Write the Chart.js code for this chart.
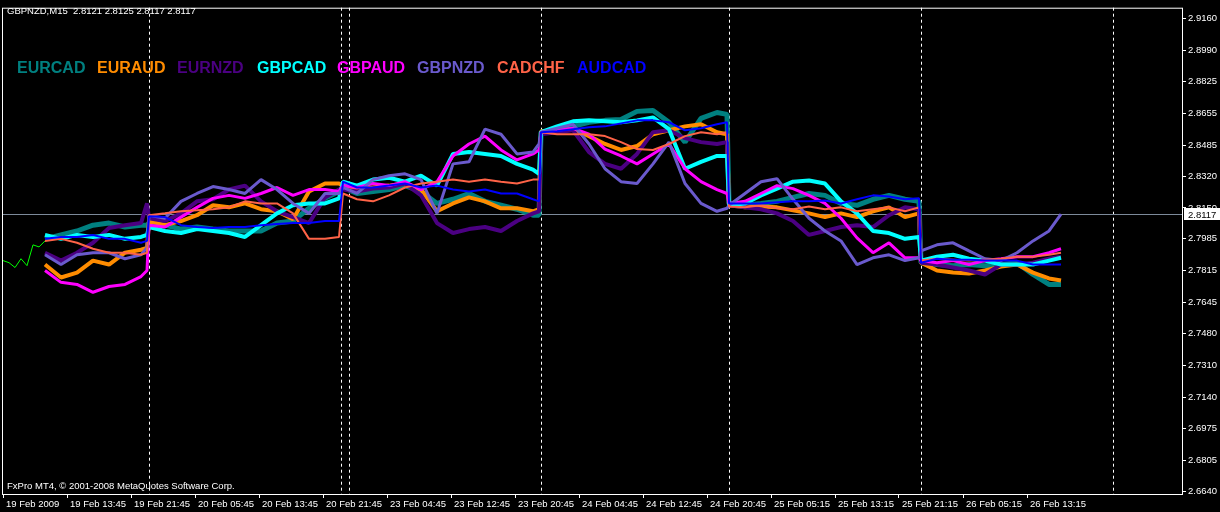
<!DOCTYPE html>
<html>
<head>
  <meta charset="UTF-8">
  <title>GBPNZD,M15</title>
  <style>
    html, body { margin: 0; padding: 0; background: #000; overflow: hidden; }
    #wrap { width: 1220px; height: 512px; }
  </style>
</head>
<body>
  <div id="wrap"><canvas id="chart" width="1220" height="512"></canvas></div>
  <script src="https://cdn.jsdelivr.net/npm/chart.js"></script>
  <script>
    // bar numbers on the M15 timeline (bar 0 = 19 Feb 2009 05:45)
    const bars = [21,29,37,45,53,61,69,72, 73,81,89,97,105,113,121,129,137,145,153,161,168,
      170,177,185,193,201,209,217,225,233,241,249,257,265,268, 269,277,285,293,301,309,317,325,333,341,349,357,362,
      363,371,379,387,395,403,411,419,427,435,443,451,458, 459,467,475,483,491,499,507,515,523,529];

    const eurcad = [2.7985,2.8006,2.8027,2.8058,2.8069,2.8048,2.8058,2.8058,
      2.8069,2.8058,2.8037,2.8048,2.8037,2.8027,2.8027,2.8027,2.8069,2.8080,2.8148,2.8201,2.8238,
      2.8259,2.8227,2.8238,2.8248,2.8269,2.8238,2.8174,2.8196,2.8227,2.8185,2.8164,2.8143,2.8111,2.8111,
      2.8554,2.8564,2.8585,2.8607,2.8617,2.8622,2.8665,2.8670,2.8607,2.8501,2.8628,2.8659,2.8649,
      2.8174,2.8164,2.8174,2.8185,2.8206,2.8227,2.8217,2.8174,2.8164,2.8196,2.8217,2.8196,2.8185,
      2.7858,2.7848,2.7842,2.7848,2.7842,2.7848,2.7858,2.7795,2.7742,2.7742];
    const euraud = [2.7848,2.7779,2.7805,2.7869,2.7848,2.7911,2.7927,2.7937,
      2.8080,2.8058,2.8080,2.8111,2.8164,2.8153,2.8174,2.8143,2.8132,2.8090,2.8238,2.8280,2.8280,
      2.8269,2.8248,2.8259,2.8269,2.8280,2.8248,2.8132,2.8174,2.8206,2.8185,2.8148,2.8148,2.8132,2.8143,
      2.8559,2.8564,2.8570,2.8533,2.8491,2.8459,2.8480,2.8543,2.8564,2.8585,2.8596,2.8554,2.8543,
      2.8164,2.8153,2.8158,2.8153,2.8137,2.8121,2.8101,2.8121,2.8101,2.8132,2.8153,2.8101,2.8121,
      2.7858,2.7816,2.7805,2.7800,2.7816,2.7837,2.7848,2.7805,2.7774,2.7763];
    const eurnzd = [2.7911,2.7869,2.7911,2.7964,2.8043,2.8058,2.8069,2.8174,
      2.8095,2.8080,2.8121,2.8185,2.8196,2.8248,2.8269,2.8185,2.8132,2.8101,2.8069,2.8206,2.8248,
      2.8248,2.8238,2.8253,2.8259,2.8280,2.8217,2.8069,2.8016,2.8037,2.8048,2.8027,2.8080,2.8121,2.8132,
      2.8543,2.8554,2.8564,2.8448,2.8385,2.8359,2.8438,2.8554,2.8564,2.8522,2.8501,2.8491,2.8501,
      2.8164,2.8153,2.8143,2.8121,2.8080,2.8006,2.8027,2.8048,2.8058,2.8048,2.8111,2.8153,2.8143,
      2.7858,2.7848,2.7832,2.7816,2.7795,2.7848,2.7848,2.7858,2.7879,2.7890];
    const gbpcad = [2.8006,2.7985,2.8006,2.7995,2.8006,2.7985,2.7995,2.8006,
      2.8048,2.8027,2.8016,2.8037,2.8027,2.8016,2.7995,2.8058,2.8121,2.8164,2.8174,2.8174,2.8201,
      2.8290,2.8269,2.8301,2.8311,2.8290,2.8322,2.8269,2.8438,2.8448,2.8438,2.8427,2.8385,2.8354,2.8332,
      2.8554,2.8585,2.8612,2.8617,2.8612,2.8607,2.8617,2.8633,2.8570,2.8359,2.8396,2.8427,2.8427,
      2.8164,2.8174,2.8217,2.8253,2.8290,2.8296,2.8280,2.8185,2.8121,2.8027,2.8016,2.7985,2.7995,
      2.7869,2.7890,2.7900,2.7879,2.7869,2.7848,2.7848,2.7848,2.7869,2.7884];
    const gbpaud = [2.7816,2.7753,2.7742,2.7700,2.7731,2.7742,2.7784,2.7816,
      2.8058,2.8048,2.8101,2.8153,2.8201,2.8217,2.8201,2.8227,2.8259,2.8217,2.8248,2.8248,2.8238,
      2.8269,2.8259,2.8280,2.8269,2.8290,2.8248,2.8290,2.8427,2.8491,2.8533,2.8459,2.8406,2.8438,2.8459,
      2.8554,2.8564,2.8575,2.8543,2.8464,2.8427,2.8385,2.8438,2.8491,2.8359,2.8290,2.8248,2.8227,
      2.8174,2.8185,2.8227,2.8269,2.8253,2.8217,2.8174,2.8095,2.7990,2.7911,2.7964,2.7884,2.7884,
      2.7869,2.7858,2.7869,2.7848,2.7869,2.7879,2.7890,2.7890,2.7911,2.7932];
    const gbpnzd = [2.7900,2.7848,2.7900,2.7911,2.7911,2.7879,2.7900,2.7937,
      2.8111,2.8095,2.8185,2.8227,2.8264,2.8248,2.8227,2.8301,2.8248,2.8174,2.8121,2.8227,2.8227,
      2.8259,2.8227,2.8301,2.8322,2.8332,2.8301,2.8121,2.8385,2.8396,2.8570,2.8543,2.8438,2.8448,2.8491,
      2.8554,2.8575,2.8596,2.8491,2.8359,2.8290,2.8280,2.8385,2.8501,2.8280,2.8174,2.8132,2.8148,
      2.8164,2.8227,2.8290,2.8306,2.8196,2.8095,2.8027,2.7974,2.7848,2.7884,2.7900,2.7869,2.7884,
      2.7921,2.7953,2.7964,2.7921,2.7879,2.7869,2.7911,2.7974,2.8027,2.8117];
    const cadchf = [2.7974,2.7985,2.7964,2.7932,2.7911,2.7911,2.7900,2.7911,
      2.8111,2.8121,2.8132,2.8137,2.8143,2.8153,2.8185,2.8174,2.8174,2.8121,2.7985,2.7985,2.7995,
      2.8227,2.8196,2.8185,2.8217,2.8259,2.8280,2.8290,2.8301,2.8290,2.8301,2.8290,2.8280,2.8301,2.8301,
      2.8554,2.8543,2.8543,2.8543,2.8533,2.8501,2.8464,2.8459,2.8491,2.8533,2.8554,2.8543,2.8554,
      2.8158,2.8153,2.8164,2.8148,2.8143,2.8158,2.8143,2.8153,2.8132,2.8143,2.8153,2.8132,2.8153,
      2.7869,2.7879,2.7874,2.7869,2.7874,2.7879,2.7890,2.7890,2.7900,2.7911];
    const audcad = [2.7985,2.7995,2.7995,2.8006,2.7985,2.7985,2.7964,2.7974,
      2.8106,2.8101,2.8058,2.8048,2.8043,2.8048,2.8048,2.8058,2.8064,2.8069,2.8069,2.8080,2.8080,
      2.8290,2.8259,2.8259,2.8269,2.8280,2.8259,2.8269,2.8248,2.8238,2.8248,2.8227,2.8227,2.8196,2.8185,
      2.8554,2.8559,2.8570,2.8580,2.8585,2.8601,2.8617,2.8617,2.8607,2.8564,2.8575,2.8596,2.8607,
      2.8174,2.8174,2.8174,2.8180,2.8185,2.8185,2.8190,2.8174,2.8196,2.8217,2.8211,2.8196,2.8201,
      2.7858,2.7879,2.7874,2.7874,2.7869,2.7869,2.7869,2.7848,2.7848,2.7848];

    // main chart line (only visible before the indicator starts)
    const priceBars = [0,3,6,9,12,15,18,21];
    const priceLine = [2.7869,2.7858,2.7832,2.7879,2.7842,2.7953,2.7942,2.7974];

    const xTickBars = [0,32,64,96,128,160,192,224,256,288,320,352,384,416,448,480,512];
    const xTickLabels = ['19 Feb 2009','19 Feb 13:45','19 Feb 21:45','20 Feb 05:45','20 Feb 13:45',
      '20 Feb 21:45','23 Feb 04:45','23 Feb 12:45','23 Feb 20:45','24 Feb 04:45','24 Feb 12:45',
      '24 Feb 20:45','25 Feb 05:15','25 Feb 13:15','25 Feb 21:15','26 Feb 05:15','26 Feb 13:15'];
    const yTicks = [2.9160,2.8990,2.8825,2.8655,2.8485,2.8320,2.8150,2.7985,2.7815,
      2.7645,2.7480,2.7310,2.7140,2.6975,2.6805,2.6640];
    const daySeparators = [73,169,173,269,363,459,555];
    const lastPrice = 2.8117;
    const headerText = 'GBPNZD,M15  2.8121 2.8125 2.8117 2.8117';
    const footerText = 'FxPro MT4, \u00A9 2001-2008 MetaQuotes Software Corp.';

    const FONT = '"Liberation Sans", Arial, sans-serif';
    const pts = (xs, ys) => ys.map((v, i) => ({ x: xs[i], y: v }));

    function pair(label, values, color, width, order) {
      return {
        label, data: pts(bars, values), borderColor: color, backgroundColor: color,
        borderWidth: width, order, pointRadius: 0, tension: 0, fill: false,
        borderJoinStyle: 'bevel', borderCapStyle: 'butt'
      };
    }

    // MT4-like frame, day separators, price line, legend and captions
    const terminal = {
      id: 'terminal',
      beforeDatasetsDraw(chart) {
        const { ctx, chartArea: a, scales: { x, y } } = chart;
        ctx.save();
        ctx.lineWidth = 1;
        ctx.strokeStyle = '#ffffff';
        ctx.setLineDash([3, 3]);
        daySeparators.forEach(b => {
          const px = Math.round(x.getPixelForValue(b)) + 0.5;
          ctx.beginPath(); ctx.moveTo(px, a.top); ctx.lineTo(px, a.bottom); ctx.stroke();
        });
        ctx.setLineDash([]);
        ctx.strokeStyle = '#7d8a9a';
        const py = Math.round(y.getPixelForValue(lastPrice)) + 0.5;
        ctx.beginPath(); ctx.moveTo(a.left, py); ctx.lineTo(a.right, py); ctx.stroke();
        ctx.restore();
      },
      afterDraw(chart) {
        const { ctx, chartArea: a, scales: { y } } = chart;
        ctx.save();
        ctx.strokeStyle = '#ffffff';
        ctx.lineWidth = 1;
        ctx.strokeRect(a.left + 0.5, a.top + 0.5, a.right - a.left, a.bottom - a.top);

        ctx.fillStyle = '#ffffff';
        ctx.font = '9.5px ' + FONT;
        ctx.textBaseline = 'alphabetic';
        ctx.fillText(headerText, 7, 14);
        ctx.fillText(footerText, 7, 489);

        ctx.font = 'bold 16px ' + FONT;
        chart.data.datasets.forEach((ds, i) => {
          if (!ds.label) return;
          ctx.fillStyle = ds.borderColor;
          ctx.fillText(ds.label, 17 + 80 * i, 73);
        });

        // last price tag on the price scale
        const py = Math.round(y.getPixelForValue(lastPrice));
        ctx.fillStyle = '#ffffff';
        ctx.fillRect(a.right + 2, py - 6, chart.width - a.right - 2, 12);
        ctx.fillStyle = '#000000';
        ctx.font = '9.5px ' + FONT;
        ctx.textBaseline = 'middle';
        ctx.fillText(lastPrice.toFixed(4), a.right + 6, py + 1);
        ctx.restore();
      }
    };

    new Chart(document.getElementById('chart'), {
      type: 'line',
      data: {
        datasets: [
          pair('EURCAD', eurcad, '#008080', 5, 8),
          pair('EURAUD', euraud, '#ff8c00', 4, 7),
          pair('EURNZD', eurnzd, '#4b0082', 4, 6),
          pair('GBPCAD', gbpcad, '#00ffff', 4, 5),
          pair('GBPAUD', gbpaud, '#ff00ff', 3, 4),
          pair('GBPNZD', gbpnzd, '#6a5acd', 3, 3),
          pair('CADCHF', cadchf, '#ff6347', 2, 2),
          pair('AUDCAD', audcad, '#0000ff', 2, 1),
          {
            label: '', data: pts(priceBars, priceLine), borderColor: '#00ff00',
            borderWidth: 1, order: 9, pointRadius: 0, tension: 0, fill: false
          }
        ]
      },
      options: {
        responsive: false,
        animation: false,
        events: [],
        layout: { padding: { left: 2, top: 2, right: 0, bottom: 0 } },
        plugins: { legend: { display: false }, tooltip: { enabled: false } },
        scales: {
          x: {
            type: 'linear',
            min: -0.5,
            max: 589.5,
            border: { display: false },
            grid: { drawOnChartArea: false, drawTicks: true, tickLength: 4, color: '#ffffff' },
            ticks: {
              color: '#ffffff', font: { family: FONT, size: 9.5 }, align: 'start', labelOffset: 3,
              padding: 1, maxRotation: 0, autoSkip: false,
              callback: v => xTickLabels[xTickBars.indexOf(v)]
            },
            afterBuildTicks: s => { s.ticks = xTickBars.map(v => ({ value: v })); },
            afterFit: s => { s.height = 18; }
          },
          y: {
            position: 'right',
            min: 2.6624,
            max: 2.9218,
            border: { display: false },
            grid: { drawOnChartArea: false, drawTicks: true, tickLength: 4, color: '#ffffff' },
            ticks: {
              color: '#ffffff', font: { family: FONT, size: 9.5 }, padding: 2,
              callback: v => Number(v).toFixed(4)
            },
            afterBuildTicks: s => { s.ticks = yTicks.map(v => ({ value: v })); },
            afterFit: s => { s.width = 38; }
          }
        }
      },
      plugins: [terminal]
    });
  </script>
</body>
</html>
